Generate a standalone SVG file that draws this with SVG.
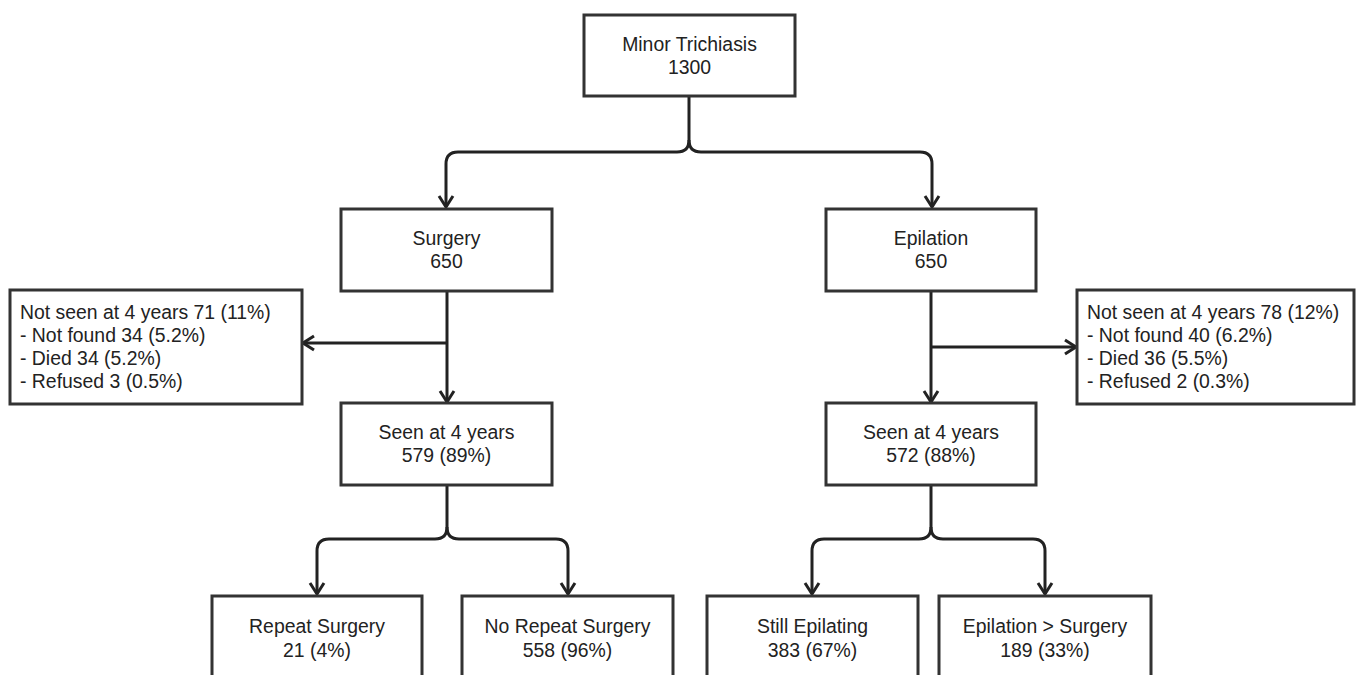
<svg xmlns="http://www.w3.org/2000/svg" width="1359" height="675" viewBox="0 0 1359 675">
<style>
.box{fill:#fff;stroke:#333;stroke-width:3}
.t{font-family:"Liberation Sans",Arial,sans-serif;font-size:19.4px;fill:#222}
.c{text-anchor:middle}
.ln{fill:none;stroke:#222;stroke-width:3}
</style>
<defs>
<marker id="ah" markerUnits="userSpaceOnUse" markerWidth="20" markerHeight="20" refX="12" refY="8" orient="auto" overflow="visible">
<path d="M1,1 L12,8 L1,15" fill="none" stroke="#222" stroke-width="3"/>
</marker>
</defs>
<rect width="1359" height="675" fill="#fff"/>
<g id="connectors">
<path class="ln" d="M689,96 V140 Q689,152 677,152 H458 Q446,152 446,164 V207" marker-end="url(#ah)"/>
<path class="ln" d="M689,140 Q689,152 701,152 H920 Q932,152 932,164 V207" marker-end="url(#ah)"/>
<path class="ln" d="M447,291 V402" marker-end="url(#ah)"/>
<path class="ln" d="M447,343 H303" marker-end="url(#ah)"/>
<path class="ln" d="M931,291 V402" marker-end="url(#ah)"/>
<path class="ln" d="M931,347 H1076" marker-end="url(#ah)"/>
<path class="ln" d="M447,485 V527 Q447,539 435,539 H329 Q317,539 317,551 V594" marker-end="url(#ah)"/>
<path class="ln" d="M447,527 Q447,539 459,539 H556 Q568,539 568,551 V594" marker-end="url(#ah)"/>
<path class="ln" d="M931,485 V527 Q931,539 919,539 H824 Q812,539 812,551 V594" marker-end="url(#ah)"/>
<path class="ln" d="M931,527 Q931,539 943,539 H1033 Q1045,539 1045,551 V594" marker-end="url(#ah)"/>
</g>
<g id="minor">
<rect class="box" x="584" y="15" width="211" height="81"/>
<text class="t c" x="689.5" y="51">Minor Trichiasis</text>
<text class="t c" x="689.5" y="74">1300</text>
</g>
<g id="surgery">
<rect class="box" x="341" y="209" width="211" height="82"/>
<text class="t c" x="446.5" y="245">Surgery</text>
<text class="t c" x="446.5" y="268">650</text>
</g>
<g id="epilation">
<rect class="box" x="826" y="209" width="210" height="82"/>
<text class="t c" x="931" y="245">Epilation</text>
<text class="t c" x="931" y="268">650</text>
</g>
<g id="notseen-left">
<rect class="box" x="10" y="290" width="292" height="114"/>
<text class="t" x="20" y="319">Not seen at 4 years 71 (11%)</text>
<text class="t" x="20" y="342">- Not found 34 (5.2%)</text>
<text class="t" x="20" y="365">- Died 34 (5.2%)</text>
<text class="t" x="20" y="388">- Refused 3 (0.5%)</text>
</g>
<g id="notseen-right">
<rect class="box" x="1077" y="290" width="277" height="114"/>
<text class="t" x="1087" y="319">Not seen at 4 years 78 (12%)</text>
<text class="t" x="1087" y="342">- Not found 40 (6.2%)</text>
<text class="t" x="1087" y="365">- Died 36 (5.5%)</text>
<text class="t" x="1087" y="388">- Refused 2 (0.3%)</text>
</g>
<g id="seen-left">
<rect class="box" x="341" y="403" width="211" height="82"/>
<text class="t c" x="446.5" y="439">Seen at 4 years</text>
<text class="t c" x="446.5" y="462">579 (89%)</text>
</g>
<g id="seen-right">
<rect class="box" x="826" y="403" width="210" height="82"/>
<text class="t c" x="931" y="439">Seen at 4 years</text>
<text class="t c" x="931" y="462">572 (88%)</text>
</g>
<g id="repeat">
<rect class="box" x="212" y="596" width="210" height="100"/>
<text class="t c" x="317" y="633">Repeat Surgery</text>
<text class="t c" x="317" y="657">21 (4%)</text>
</g>
<g id="norepeat">
<rect class="box" x="462" y="596" width="211" height="100"/>
<text class="t c" x="567.5" y="633">No Repeat Surgery</text>
<text class="t c" x="567.5" y="657">558 (96%)</text>
</g>
<g id="still">
<rect class="box" x="707" y="596" width="211" height="100"/>
<text class="t c" x="812.5" y="633">Still Epilating</text>
<text class="t c" x="812.5" y="657">383 (67%)</text>
</g>
<g id="epsurg">
<rect class="box" x="939" y="596" width="212" height="100"/>
<text class="t c" x="1045" y="633">Epilation &gt; Surgery</text>
<text class="t c" x="1045" y="657">189 (33%)</text>
</g>
</svg>
